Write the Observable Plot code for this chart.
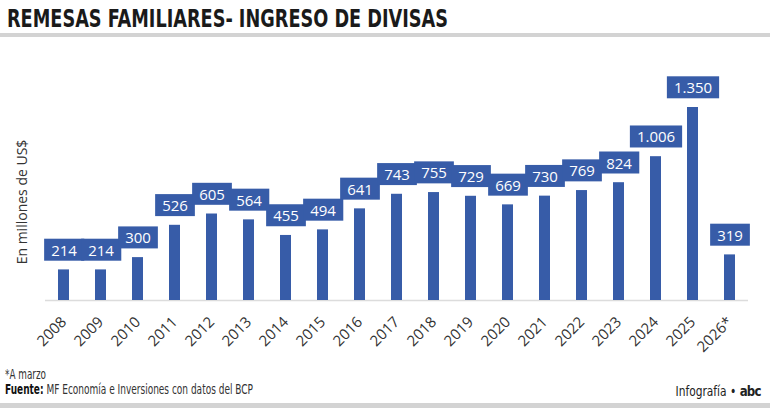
<!DOCTYPE html>
<html><head><meta charset="utf-8">
<script src="https://cdn.jsdelivr.net/npm/d3@7"></script>
<script src="https://cdn.jsdelivr.net/npm/@observablehq/plot@0.6"></script>
<style>
html,body{margin:0;padding:0;background:#fff;}
#wrap{position:relative;width:770px;height:408px;overflow:hidden;background:#fff;font-family:"Liberation Sans Narrow","DejaVu Sans Condensed",Roboto,sans-serif;}
.abs{position:absolute;white-space:nowrap;line-height:1;}
#title{left:7px;top:7px;font-size:24px;font-weight:bold;color:#1a1a1a;transform-origin:0 0;}
#rule{left:0;top:33px;width:770px;height:4px;background:#d3d3d3;}
#band{left:0;top:403px;width:770px;height:5px;background:#d3d3d3;}
#chart{left:0;top:40px;}
#ylab{font-family:"Open Sans",sans-serif;font-size:14px;color:#333;}
#note{left:5px;top:367px;font-size:14px;color:#333;transform-origin:0 0;}
#src{left:5px;top:382px;font-size:14px;color:#333;transform-origin:0 0;}
#src b{color:#111;}
#brand{top:384px;font-size:14px;color:#222;transform-origin:100% 0;}
#brand b{font-family:"DejaVu Sans",sans-serif;font-weight:900;letter-spacing:-1px;font-size:14px;}
</style></head>
<body>
<div id="wrap">
  <div id="title" class="abs">REMESAS FAMILIARES- INGRESO DE DIVISAS</div>
  <div id="rule" class="abs"></div>
  <div id="chart" class="abs"></div>
  <div id="ylab" class="abs">En millones de US$</div>
  <div id="note" class="abs">*A marzo</div>
  <div id="src" class="abs"><b>Fuente:</b> MF Economía e Inversiones con datos del BCP</div>
  <div id="brand" class="abs">Infografía • <b>abc</b></div>
  <div id="band" class="abs"></div>
</div>
<script>
const years = ["2008","2009","2010","2011","2012","2013","2014","2015","2016","2017","2018","2019","2020","2021","2022","2023","2024","2025","2026*"];
const values = [214,214,300,526,605,564,455,494,641,743,755,729,669,730,769,824,1006,1350,319];
const data = years.map((year, i) => ({year, value: values[i]}));
const fmt = d3.formatLocale({decimal: ",", thousands: ".", grouping: [3], currency: ["", ""]}).format(",");
const BLUE = "#375ca8";

const plot = Plot.plot({
  width: 770, height: 320,
  marginLeft: 45, marginRight: 22, marginTop: 0, marginBottom: 60,
  style: {fontFamily: "'Open Sans', sans-serif", fontSize: "15px", color: "#333", background: "transparent", overflow: "visible"},
  x: {domain: years, range: [45.5, 748.5], paddingInner: 0.7, paddingOuter: 0.35, label: null, tickSize: 0, tickRotate: -45, tickPadding: 19},
  y: {domain: [0, 1350], range: [260, 67], axis: null},
  marks: [
    Plot.ruleY([0], {stroke: "#dcdcdc", strokeWidth: 1.5}),
    Plot.barY(data, {x: "year", y: "value", fill: BLUE}),
    Plot.text(data, {x: "year", y: "value", text: d => fmt(d.value), dy: -19, fill: "white", fontSize: 15, lineAnchor: "middle"})
  ]
});
document.getElementById("chart").appendChild(plot);

// label boxes behind value labels
plot.querySelectorAll('g[aria-label="text"] text').forEach(t => {
  const b = t.getBBox();
  const w = b.width + 14, h = 22;
  const cx = b.x + b.width / 2, cy = b.y + b.height / 2;
  const r = document.createElementNS("http://www.w3.org/2000/svg", "rect");
  r.setAttribute("x", cx - w / 2);
  r.setAttribute("y", cy - h / 2);
  r.setAttribute("width", w);
  r.setAttribute("height", h);
  r.setAttribute("fill", BLUE);
  if (t.getAttribute("transform")) r.setAttribute("transform", t.getAttribute("transform"));
  t.parentNode.insertBefore(r, t);
});

// fit condensed texts to target widths
function fit(id, target) {
  const el = document.getElementById(id);
  const w = el.getBoundingClientRect().width;
  el.style.transform = `scaleX(${target / w})`;
}
fit("title", 441);
fit("note", 41);
fit("src", 248);
const brand = document.getElementById("brand");
brand.style.left = (761 - brand.getBoundingClientRect().width) + "px";
fit("brand", 85);

// rotated y label
const yl = document.getElementById("ylab");
const yr = yl.getBoundingClientRect();
yl.style.left = (22 - yr.width / 2) + "px";
yl.style.top = (202 - yr.height / 2) + "px";
yl.style.transform = "rotate(-90deg)";
</script>
</body></html>
